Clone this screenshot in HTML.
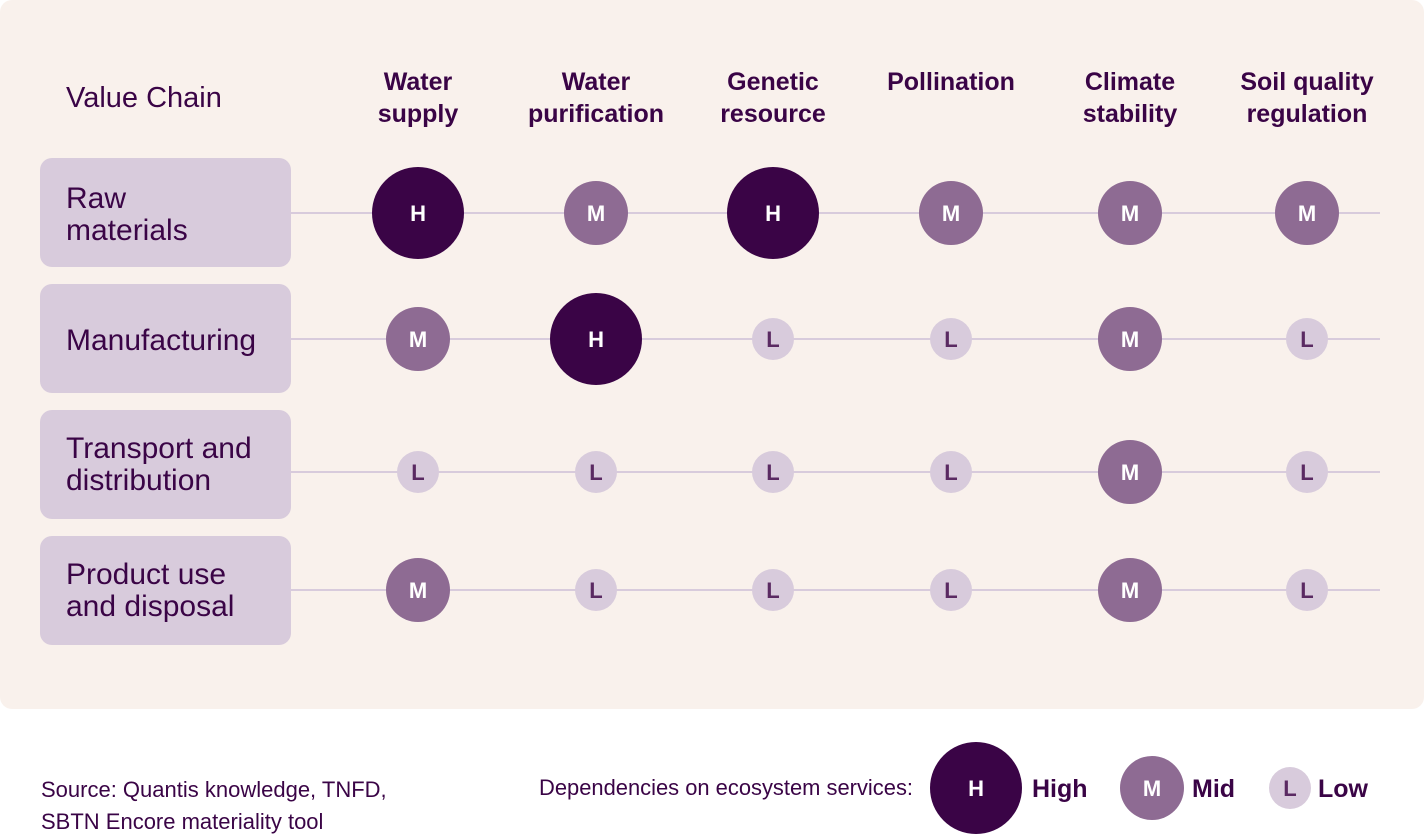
<!DOCTYPE html>
<html><head><meta charset="utf-8"><style>
html,body{margin:0;padding:0;background:#fff;}
svg{display:block;font-family:"Liberation Sans",sans-serif;}
</style></head><body>
<svg width="1424" height="838" viewBox="0 0 1424 838" xmlns="http://www.w3.org/2000/svg">
<rect x="0" y="0" width="1424" height="709" rx="12" fill="#f9f1ec"/>
<g fill="#3a0446" font-weight="bold" font-size="25" text-anchor="middle">
<text x="418" y="90">Water</text><text x="418" y="122">supply</text>
<text x="596" y="90">Water</text><text x="596" y="122">purification</text>
<text x="773" y="90">Genetic</text><text x="773" y="122">resource</text>
<text x="951" y="90">Pollination</text>
<text x="1130" y="90">Climate</text><text x="1130" y="122">stability</text>
<text x="1307" y="90">Soil quality</text><text x="1307" y="122">regulation</text>
</g>
<text x="66" y="107" font-size="29" fill="#3a0446">Value Chain</text>
<g stroke="#d8cbdc" stroke-width="2">
<line x1="291" y1="213" x2="1380" y2="213"/>
<line x1="291" y1="339" x2="1380" y2="339"/>
<line x1="291" y1="472" x2="1380" y2="472"/>
<line x1="291" y1="590" x2="1380" y2="590"/>
</g>
<g fill="#d8cbdc">
<rect x="40" y="158" width="251" height="109" rx="12"/>
<rect x="40" y="284" width="251" height="109" rx="12"/>
<rect x="40" y="410" width="251" height="109" rx="12"/>
<rect x="40" y="536" width="251" height="109" rx="12"/>
</g>
<g fill="#3a0446" font-size="30">
<text x="66" y="208">Raw</text><text x="66" y="240">materials</text>
<text x="66" y="350">Manufacturing</text>
<text x="66" y="458">Transport and</text><text x="66" y="490">distribution</text>
<text x="66" y="584">Product use</text><text x="66" y="616">and disposal</text>
</g>
<defs>
<g id="H"><circle r="46" fill="#3a0446"/><text y="8" fill="#fff" font-size="22" font-weight="bold" text-anchor="middle">H</text></g>
<g id="M"><circle r="32" fill="#8e6b93"/><text y="8" fill="#fff" font-size="22" font-weight="bold" text-anchor="middle">M</text></g>
<g id="L"><circle r="21" fill="#d8cbdc"/><text y="8" fill="#5a2a62" font-size="22" font-weight="bold" text-anchor="middle">L</text></g>
</defs>
<use href="#H" x="418" y="213"/><use href="#M" x="596" y="213"/><use href="#H" x="773" y="213"/><use href="#M" x="951" y="213"/><use href="#M" x="1130" y="213"/><use href="#M" x="1307" y="213"/>
<use href="#M" x="418" y="339"/><use href="#H" x="596" y="339"/><use href="#L" x="773" y="339"/><use href="#L" x="951" y="339"/><use href="#M" x="1130" y="339"/><use href="#L" x="1307" y="339"/>
<use href="#L" x="418" y="472"/><use href="#L" x="596" y="472"/><use href="#L" x="773" y="472"/><use href="#L" x="951" y="472"/><use href="#M" x="1130" y="472"/><use href="#L" x="1307" y="472"/>
<use href="#M" x="418" y="590"/><use href="#L" x="596" y="590"/><use href="#L" x="773" y="590"/><use href="#L" x="951" y="590"/><use href="#M" x="1130" y="590"/><use href="#L" x="1307" y="590"/>
<g fill="#3a0446" font-size="22">
<text x="41" y="797">Source: Quantis knowledge, TNFD,</text>
<text x="41" y="829">SBTN Encore materiality tool</text>
<text x="539" y="795" textLength="374" lengthAdjust="spacingAndGlyphs">Dependencies on ecosystem services:</text>
</g>
<use href="#H" x="976" y="788"/><use href="#M" x="1152" y="788"/><use href="#L" x="1290" y="788"/>
<g fill="#3a0446" font-size="25" font-weight="bold">
<text x="1032" y="797">High</text><text x="1192" y="797">Mid</text><text x="1318" y="797">Low</text>
</g>
</svg>
</body></html>
